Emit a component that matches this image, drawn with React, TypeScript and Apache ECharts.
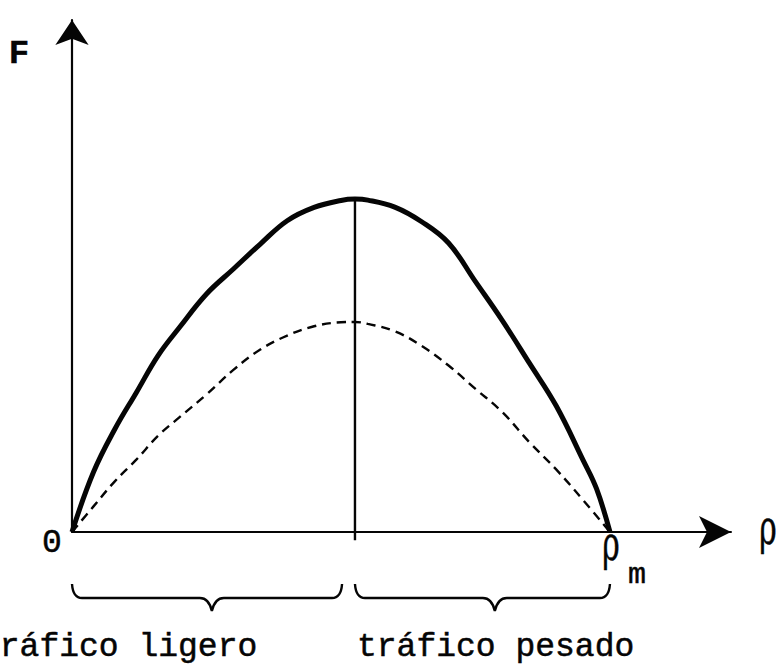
import React, { useEffect, useRef } from "react";
import * as echarts from "echarts";

// Flow–density (fundamental diagram) curves: density as a fraction of ρm, flow as a fraction of the peak
const solidRho = [0, 0.04, 0.08, 0.12, 0.16, 0.2, 0.25, 0.3, 0.35, 0.4, 0.45, 0.5, 0.526, 0.55, 0.6, 0.65, 0.7, 0.75, 0.8, 0.85, 0.9, 0.95, 0.975, 1.0];
const solidFlow = [0, 0.18, 0.31, 0.42, 0.53, 0.615, 0.715, 0.79, 0.865, 0.935, 0.975, 0.996, 1.0, 0.997, 0.976, 0.932, 0.868, 0.752, 0.635, 0.508, 0.379, 0.216, 0.13, 0];

const dashedRho = [0, 0.04, 0.08, 0.12, 0.16, 0.2, 0.25, 0.3, 0.35, 0.4, 0.45, 0.5, 0.526, 0.55, 0.6, 0.65, 0.7, 0.75, 0.8, 0.85, 0.9, 0.95, 1.0];
const dashedFlow = [0, 0.077, 0.153, 0.218, 0.289, 0.345, 0.413, 0.487, 0.548, 0.59, 0.618, 0.63, 0.631, 0.625, 0.603, 0.559, 0.5, 0.43, 0.36, 0.27, 0.188, 0.096, 0];

// Critical density (peak of the solid curve)
const criticalRho = 0.526;
const criticalFlow = 1.0;

// Regime braces: [start, cusp, end] along the density axis
const braces = [
  [0, 0.26, 0.502],
  [0.526, 0.786, 1.0],
];
const regimeLabels = ["tráfico ligero", "tráfico pesado"];

const pairs = (xs: number[], ys: number[]) => xs.map((x, i) => [x, ys[i]]);

export default function App() {
  const ref = useRef<HTMLDivElement>(null);

  useEffect(() => {
    if (!ref.current) return;
    const chart = echarts.init(ref.current, null, { renderer: "svg" });
    const ink = "#050505";
    const mono = "Liberation Mono, DejaVu Sans Mono, monospace";
    const label = (text: string, x: number, y: number, font: string, extra: any = {}) => ({
      type: "text",
      x,
      y,
      scaleX: extra.scaleX ?? 1,
      style: {
        text,
        x: 0,
        y: 0,
        align: extra.align || "center",
        verticalAlign: "middle",
        font,
        fill: ink,
        stroke: ink,
        lineWidth: 0.5,
      },
    });

    chart.setOption({
      animation: false,
      backgroundColor: "#ffffff",
      grid: { left: 72, right: 48, top: 20, bottom: 135 },
      xAxis: {
        type: "value",
        min: 0,
        max: 1.225,
        axisLine: {
          show: true,
          onZero: false,
          symbol: ["none", "arrow"],
          symbolSize: [24, 32],
          lineStyle: { color: ink, width: 2 },
        },
        axisTick: { show: false },
        axisLabel: { show: false },
        splitLine: { show: false },
      },
      yAxis: {
        type: "value",
        min: 0,
        max: 1.538,
        axisLine: {
          show: true,
          onZero: false,
          symbol: ["none", "arrow"],
          symbolSize: [25, 25],
          lineStyle: { color: ink, width: 2.2 },
        },
        axisTick: { show: false },
        axisLabel: { show: false },
        splitLine: { show: false },
      },
      series: [
        {
          type: "line",
          data: pairs(solidRho, solidFlow),
          smooth: 0.4,
          showSymbol: false,
          lineStyle: { color: ink, width: 5 },
          silent: true,
        },
        {
          type: "line",
          data: pairs(dashedRho, dashedFlow),
          smooth: 0.4,
          showSymbol: false,
          lineStyle: { color: ink, width: 2.4, type: [9, 6] },
          silent: true,
        },
        {
          type: "line",
          data: [
            [criticalRho, -0.025],
            [criticalRho, criticalFlow],
          ],
          clip: false,
          showSymbol: false,
          lineStyle: { color: ink, width: 2.4 },
          silent: true,
        },
        {
          type: "custom",
          clip: false,
          silent: true,
          data: braces,
          renderItem: (_params: any, api: any) => {
            const a = api.coord([api.value(0), 0]);
            const c = api.coord([api.value(1), 0]);
            const b = api.coord([api.value(2), 0]);
            const y = a[1];
            const top = y + 52;
            const mid = y + 66;
            const tip = y + 79;
            const d =
              `M${a[0]},${top} Q${a[0] + 1},${mid} ${a[0] + 10},${mid} ` +
              `L${c[0] - 12},${mid} Q${c[0] - 3},${mid} ${c[0]},${tip} ` +
              `Q${c[0] + 3},${mid} ${c[0] + 12},${mid} ` +
              `L${b[0] - 10},${mid} Q${b[0] - 1},${mid} ${b[0]},${top}`;
            return {
              type: "path",
              shape: { pathData: d },
              style: { fill: "none", stroke: ink, lineWidth: 2.4 },
            };
          },
        },
      ],
      graphic: [
        label("F", 19, 54, `bold 34px ${mono}`),
        label("0", 52, 543, `33px ${mono}`),
        label("ρ", 768, 527, `48px DejaVu Serif, serif`, { scaleX: 0.62 }),
        label("ρ", 611, 543, `48px DejaVu Serif, serif`, { scaleX: 0.62 }),
        label("m", 637, 575, `30px ${mono}`),
        label(regimeLabels[0], -20, 647, `33px ${mono}`, { align: "left" }),
        label(regimeLabels[1], 357, 647, `33px ${mono}`, { align: "left" }),
      ],
    });

    return () => chart.dispose();
  }, []);

  return (
    <div
      ref={ref}
      style={{ position: "fixed", left: 0, top: 0, width: 779, height: 667, background: "#fff" }}
    />
  );
}
